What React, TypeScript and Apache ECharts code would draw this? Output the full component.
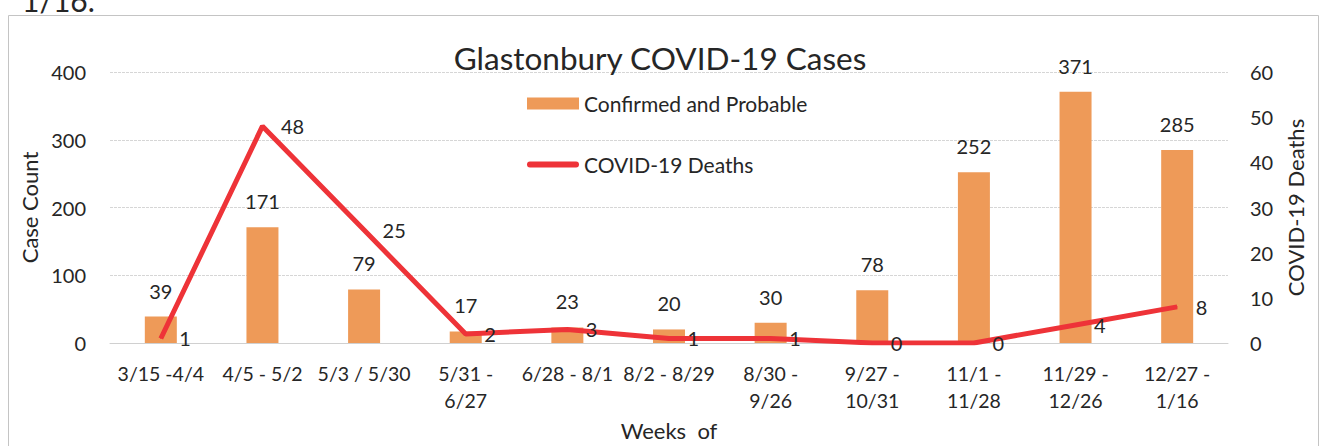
import React, { useEffect, useRef } from "react";
import * as echarts from "echarts";

const categories = [
  "3/15 -4/4",
  "4/5 - 5/2",
  "5/3 / 5/30",
  "5/31 -\n6/27",
  "6/28 - 8/1",
  "8/2 - 8/29",
  "8/30 -\n9/26",
  "9/27 -\n10/31",
  "11/1 -\n11/28",
  "11/29 -\n12/26",
  "12/27 -\n1/16",
];
const confirmedProbable = [39, 171, 79, 17, 23, 20, 30, 78, 252, 371, 285];
const covidDeaths = [1, 48, 25, 2, 3, 1, 1, 0, 0, 4, 8];
const caseTicks = { min: 0, max: 400, interval: 100 };
const deathTicks = { min: 0, max: 60, interval: 10 };

const FONT = "Lato";
const TXT = "#262626";

export default function App() {
  const ref = useRef<HTMLDivElement>(null);
  useEffect(() => {
    document.body.style.margin = "0";
    const chart = echarts.init(ref.current!, null, { renderer: "svg" });
    chart.setOption({
      animation: false,
      backgroundColor: "#ffffff",
      textStyle: { fontFamily: FONT, color: TXT },
      title: {
        text: "Glastonbury COVID-19 Cases",
        left: "center",
        top: 37,
        textStyle: { fontFamily: FONT, fontSize: 31.5, fontWeight: "normal", color: TXT },
      },
      legend: {
        orient: "vertical",
        left: 522,
        top: 88,
        itemGap: 40,
        itemWidth: 52,
        itemHeight: 12,
        textStyle: { fontFamily: FONT, fontSize: 21, color: TXT },
        data: [
          { name: "Confirmed and Probable", icon: "rect" },
          {
            name: "COVID-19 Deaths",
            icon: "path://M3,0 H51 A3,3 0 0 1 51,6 H3 A3,3 0 0 1 3,0 Z",
          },
        ],
      },
      graphic: [
        {
          type: "rect",
          shape: { x: 8.5, y: 15.5, width: 1310, height: 460 },
          style: { fill: "none", stroke: "#c4c4c4", lineWidth: 1 },
          silent: true,
        },
        {
          type: "text",
          x: 22,
          y: 15,
          style: {
            text: "1/16.",
            fontFamily: FONT,
            fontSize: 30,
            fill: TXT,
            textVerticalAlign: "bottom",
          },
          silent: true,
        },
      ],
      grid: { left: 110, right: 92, top: 72, bottom: 98 },
      xAxis: {
        type: "category",
        data: categories,
        name: "Weeks  of",
        nameLocation: "middle",
        nameGap: 76,
        nameTextStyle: { fontFamily: FONT, fontSize: 22, color: TXT },
        axisLine: { lineStyle: { color: "#d0d0d0" } },
        axisTick: { show: false },
        axisLabel: {
          interval: 0,
          fontFamily: FONT,
          fontSize: 19.5,
          color: TXT,
          lineHeight: 27,
          margin: 17,
        },
      },
      yAxis: [
        {
          type: "value",
          ...caseTicks,
          name: "Case Count",
          nameLocation: "middle",
          nameGap: 60,
          nameTextStyle: { fontFamily: FONT, fontSize: 22, color: TXT },
          axisLine: { show: false },
          axisTick: { show: false },
          axisLabel: { fontFamily: FONT, fontSize: 20, color: TXT, margin: 24 },
          splitLine: { lineStyle: { color: "#d6d6d6", type: [3, 1] } },
        },
        {
          type: "value",
          ...deathTicks,
          name: "COVID-19 Deaths",
          nameLocation: "middle",
          nameGap: 56,
          nameRotate: 90,
          nameTextStyle: { fontFamily: FONT, fontSize: 22, color: TXT },
          axisLine: { show: false },
          axisTick: { show: false },
          axisLabel: { fontFamily: FONT, fontSize: 20, color: TXT, margin: 22 },
          splitLine: { show: false },
        },
      ],
      series: [
        {
          name: "Confirmed and Probable",
          type: "bar",
          yAxisIndex: 0,
          data: confirmedProbable,
          barWidth: 32,
          itemStyle: { color: "#EE9A58" },
          label: {
            show: true,
            position: "top",
            distance: 16,
            fontFamily: FONT,
            fontSize: 20,
            color: TXT,
          },
        },
        {
          name: "COVID-19 Deaths",
          type: "line",
          yAxisIndex: 1,
          data: covidDeaths,
          showSymbol: true,
          symbol: "circle",
          symbolSize: 1,
          lineStyle: { color: "#EE3338", width: 5 },
          itemStyle: { color: "#EE3338" },
          label: {
            show: true,
            position: "right",
            distance: 18,
            fontFamily: FONT,
            fontSize: 20,
            color: TXT,
          },
        },
      ],
    });
    return () => chart.dispose();
  }, []);
  return <div ref={ref} style={{ width: 1320, height: 446 }} />;
}
